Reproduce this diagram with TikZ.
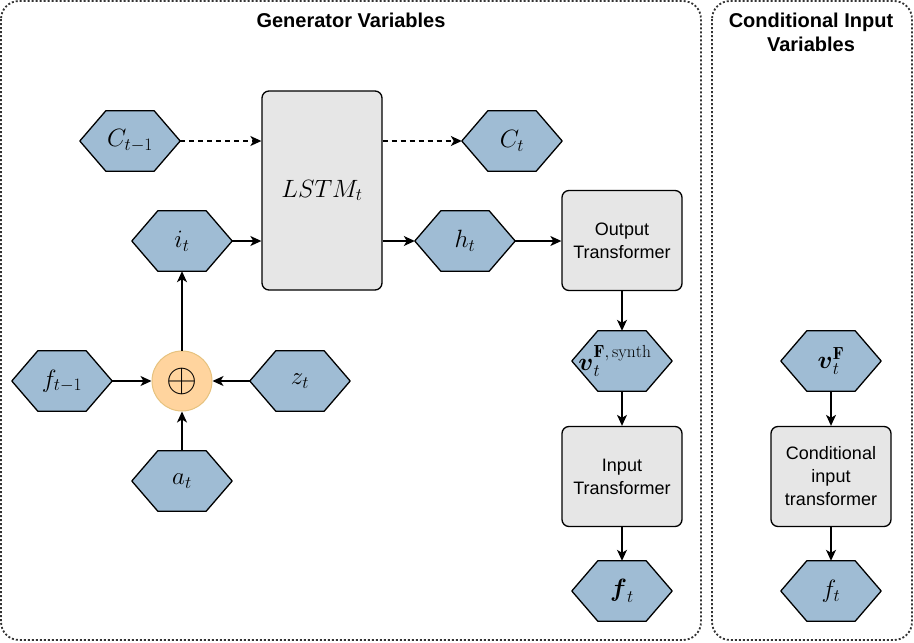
\RequirePackage{fix-cm}
\documentclass[tikz,border=0pt]{standalone}
\usepackage{amsmath}
\usepackage{fontspec}
\newfontfamily\boxfont{Liberation Sans}
\usetikzlibrary{arrows.meta}
\pgfdeclarelayer{shapelayer}
\pgfsetlayers{shapelayer,main}
\definecolor{hexcolor0x9fbcd4}{HTML}{9FBCD4}
\definecolor{hexcolor0xe6e6e6}{HTML}{E6E6E6}
\definecolor{hexcolor0xffd49e}{HTML}{FFD49E}
\definecolor{hexcolor0xe6c27e}{HTML}{E6C27E}
\definecolor{myblack}{rgb}{0.000,0.000,0.000}
\definecolor{mygrey}{rgb}{0.200,0.200,0.200}
\tikzstyle{var}=[inner sep=0pt,minimum width=100pt,minimum height=60pt,font=\fontsize{25}{27}\selectfont]
\tikzstyle{block}=[rectangle,rounded corners=7pt,fill=hexcolor0xe6e6e6,draw=myblack,line width=1.3pt,minimum width=120pt,minimum height=100pt,align=center,font=\boxfont\fontsize{18}{23}\selectfont]
\tikzstyle{sum}=[circle,fill=hexcolor0xffd49e,draw=hexcolor0xe6c27e,line width=1pt,minimum size=60pt,inner sep=0pt,font=\fontsize{40}{40}\selectfont]
\tikzstyle{group}=[draw=mygrey,line width=1.8pt,dash pattern=on 2pt off 2pt,rounded corners=18pt]
\tikzstyle{title}=[inner sep=0pt,align=center,font=\boxfont\bfseries\fontsize{20}{24}\selectfont]
\tikzstyle{flow}=[line width=1.3pt,draw=myblack,-{Stealth[length=11pt,width=10pt,inset=3pt]}]
\tikzstyle{memory}=[flow,dash pattern=on 5pt off 4pt]
% hexagon variable: name, position, label
\newcommand{\hexvar}[3]{%
  \node [style=var] (#1) at (#2) {#3};
  \begin{pgfonlayer}{shapelayer}
    \draw [fill=hexcolor0x9fbcd4,draw=myblack,line width=1.3pt,line join=round]
      (#1.west) -- ([xshift=26pt]#1.north west) -- ([xshift=-26pt]#1.north east)
      -- (#1.east) -- ([xshift=-26pt]#1.south east) -- ([xshift=26pt]#1.south west) -- cycle;
  \end{pgfonlayer}}

\begin{document}
\begin{tikzpicture}[x=1pt,y=-1pt]
\useasboundingbox (0,0) rectangle (914,643);
	% groups
	\draw [style=group] (1,1) rectangle (701,640);
	\draw [style=group] (712,1) rectangle (912,640);
	\node [style=title] (t1) at (351,20) {Generator Variables};
	\node [style=title] (t2) at (811,32) {Conditional Input\\Variables};
	% variables
	\hexvar{0}{130,141}{$C_{t-1}$}
	\hexvar{1}{512,141}{$C_t$}
	\hexvar{2}{182,241}{$i_t$}
	\hexvar{3}{465,241}{$h_t$}
	\hexvar{4}{62,381}{$f_{t-1}$}
	\hexvar{5}{300,381}{$z_t$}
	\hexvar{6}{182,481}{$a_t$}
	\hexvar{7}{622,361}{$\boldsymbol{v}_t^{\mathbf{F},\,\mathrm{synth}}$\hspace*{14pt}}
	\hexvar{11}{622,591}{$\boldsymbol{f}_t$}
	\hexvar{12}{831,361}{$\boldsymbol{v}_t^{\mathbf{F}}$}
	\hexvar{14}{831,591}{$f_t$}
	% operations
	\node [style=sum] (8) at (182,381) {$\oplus$};
	\node [style=block,minimum height=199pt,font=\fontsize{25}{27}\selectfont] (9) at (322,190.5) {$LSTM_t$};
	\node [style=block] (10) at (622,240.5) {Output\\Transformer};
	\node [style=block] (13) at (622,476.5) {Input\\Transformer};
	\node [style=block] (15) at (831,476.5) {Conditional\\input\\transformer};
	% edges
	\draw [style=memory] (0.east) -- (0.east -| 9.west);
	\draw [style=memory] (1.west -| 9.east) -- (1.west);
	\draw [style=flow] (2.east) -- (2.east -| 9.west);
	\draw [style=flow] (3.west -| 9.east) -- (3.west);
	\draw [style=flow] (3.east) -- (3.east -| 10.west);
	\draw [style=flow] (4.east) -- (8.west);
	\draw [style=flow] (5.west) -- (8.east);
	\draw [style=flow] (6.north) -- (8.south);
	\draw [style=flow] (8.north) -- (2.south);
	\draw [style=flow] (10.south) -- (7.north);
	\draw [style=flow] (7.south) -- (13.north);
	\draw [style=flow] (13.south) -- (11.north);
	\draw [style=flow] (12.south) -- (15.north);
	\draw [style=flow] (15.south) -- (14.north);
\end{tikzpicture}
\end{document}
